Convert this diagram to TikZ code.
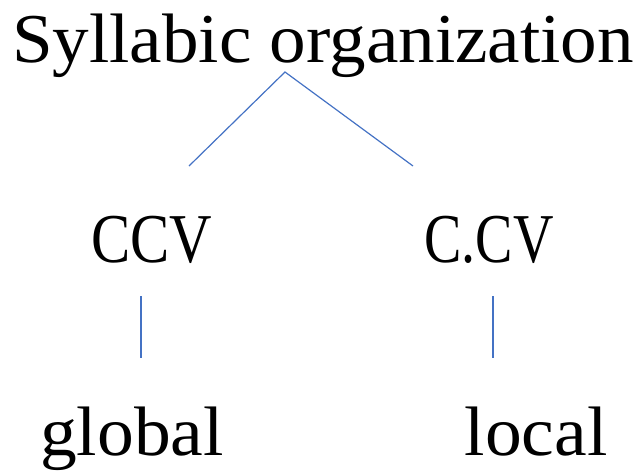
\documentclass[tikz,border=0pt]{standalone}
\usepackage{fontspec}
\setmainfont{Liberation Serif}
\begin{document}
\begin{tikzpicture}[x=1pt,y=-1pt,
  lbl/.style={inner sep=0pt,anchor=base,font=\fontsize{70}{80}\selectfont},
  conn/.style={line width=1.2pt,color={rgb,255:red,68;green,114;blue,196}}]
\useasboundingbox (0,0) rectangle (640,472);
\node[lbl] (top) at (323,62) {\scalebox{1.044}[1]{Syllabic organization}};
\node[lbl] (ccv) at (152,262) {\scalebox{0.84}[1]{CCV}};
\node[lbl] (cdcv) at (489,262) {\scalebox{0.80}[1]{C.CV}};
\node[lbl] (glob) at (132,455) {\scalebox{1.05}[1]{global}};
\node[lbl] (loc) at (536,455) {\scalebox{1.05}[1]{local}};
\coordinate (apex) at (285,72);
\coordinate (l1) at (189,166);
\coordinate (r1) at (413,166);
\coordinate (a1) at (141,296);
\coordinate (a2) at (141,358);
\coordinate (b1) at (493,296);
\coordinate (b2) at (493,358);
\draw[conn] (l1) -- (apex) -- (r1);
\draw[conn] (a1) -- (a2);
\draw[conn] (b1) -- (b2);
\end{tikzpicture}
\end{document}
